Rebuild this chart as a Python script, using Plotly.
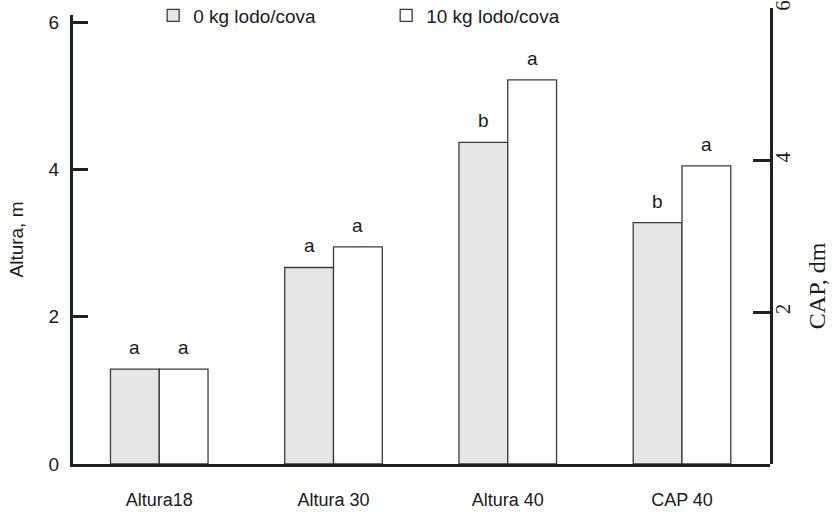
import plotly.graph_objects as go

# Categories and treatment names
categories = ["Altura18", "Altura 30", "Altura 40", "CAP 40"]
series_names = ["0 kg lodo/cova", "10 kg lodo/cova"]

# Plant height (m) for the three height measurements
altura_0kg = [1.29, 2.67, 4.37]
altura_10kg = [1.29, 2.95, 5.22]

# Circumference at breast height (dm), plotted on the right axis
cap_0kg = [3.18]
cap_10kg = [3.93]

# Significance letters above each bar
letters_0kg = ["a", "a", "b", "b"]
letters_10kg = ["a", "a", "a", "a"]

left_ticks = [0, 2, 4, 6]
right_ticks = [2, 4, 6]

SANS = "Liberation Sans, Arial, sans-serif"
SERIF = "Liberation Serif, Times New Roman, serif"
AXIS_COLOR = "#1c2224"
FILLS = ["#e6e6e8", "#ffffff"]
BAR_W = 0.28

fig = go.Figure()

n_alt = len(altura_0kg)
groups = [
    (altura_0kg, altura_10kg, categories[:n_alt], "y"),
    (cap_0kg, cap_10kg, categories[n_alt:], "y2"),
]

for gi, (v0, v1, cats, yax) in enumerate(groups):
    for si, vals in enumerate([v0, v1]):
        fig.add_trace(go.Bar(
            x=cats, y=vals, yaxis=yax,
            name=series_names[si],
            legendgroup=series_names[si],
            showlegend=(gi == 0),
            width=BAR_W,
            offset=-BAR_W if si == 0 else 0,
            marker=dict(color=FILLS[si], line=dict(color="#3a3a3a", width=1.3)),
            hoverinfo="skip",
        ))

# Letters above bars
all_0 = altura_0kg + cap_0kg
all_1 = altura_10kg + cap_10kg
for i, cat in enumerate(categories):
    yref = "y" if i < n_alt else "y2"
    for si, (vals, lets) in enumerate([(all_0, letters_0kg), (all_1, letters_10kg)]):
        fig.add_annotation(
            x=i + (-BAR_W / 2 if si == 0 else BAR_W / 2), y=vals[i],
            xref="x", yref=yref, text=lets[i], showarrow=False,
            yanchor="bottom", yshift=9,
            font=dict(family=SANS, size=19, color="#1a1a1a"),
        )

# Right axis title
fig.add_annotation(
    x=1.0, y=0.39, xref="paper", yref="paper", xshift=62,
    text="CAP, dm", textangle=-90, showarrow=False,
    font=dict(family=SERIF, size=24, color="#1a1a1a"),
)

fig.update_layout(
    width=833, height=512,
    margin=dict(l=73, r=63, t=8, b=48, autoexpand=False),
    paper_bgcolor="white", plot_bgcolor="rgba(0,0,0,0)",
    showlegend=True,
    legend=dict(
        orientation="h", x=0.115, y=1.025, xanchor="left", yanchor="top",
        entrywidth=188, font=dict(family=SANS, size=19, color="#1a1a1a"),
        bgcolor="rgba(0,0,0,0)", traceorder="normal",
    ),
    xaxis=dict(
        type="category", categoryorder="array", categoryarray=categories,
        range=[-0.495, 3.505], showline=True, linecolor=AXIS_COLOR, linewidth=2.5,
        ticks="", showgrid=False, zeroline=False, ticklabelstandoff=18,
        automargin=False,
        tickfont=dict(family=SANS, size=18, color="#1a1a1a"),
    ),
    yaxis=dict(
        domain=[0, 0.9846], range=[0, 6.1], tickvals=left_ticks,
        showline=True, linecolor=AXIS_COLOR, linewidth=3,
        ticks="inside", ticklen=15, tickwidth=2.5, tickcolor=AXIS_COLOR,
        showgrid=False, zeroline=False, ticklabelstandoff=7, automargin=False,
        tickfont=dict(family=SANS, size=19, color="#1a1a1a"),
        title=dict(text="Altura, m", standoff=20,
                   font=dict(family=SANS, size=19, color="#1a1a1a")),
    ),
    yaxis2=dict(
        domain=[0, 1.0], range=[0, 6.01], tickvals=right_ticks,
        anchor="x", side="right",
        showline=True, linecolor=AXIS_COLOR, linewidth=3,
        ticks="inside", ticklen=17, tickwidth=2.5, tickcolor=AXIS_COLOR,
        showgrid=False, zeroline=False, tickangle=-90, ticklabelstandoff=-8,
        automargin=False, ticklabeloverflow="allow",
        tickfont=dict(family=SERIF, size=21, color="#1a1a1a"),
    ),
)

fig.write_html("out.html")
